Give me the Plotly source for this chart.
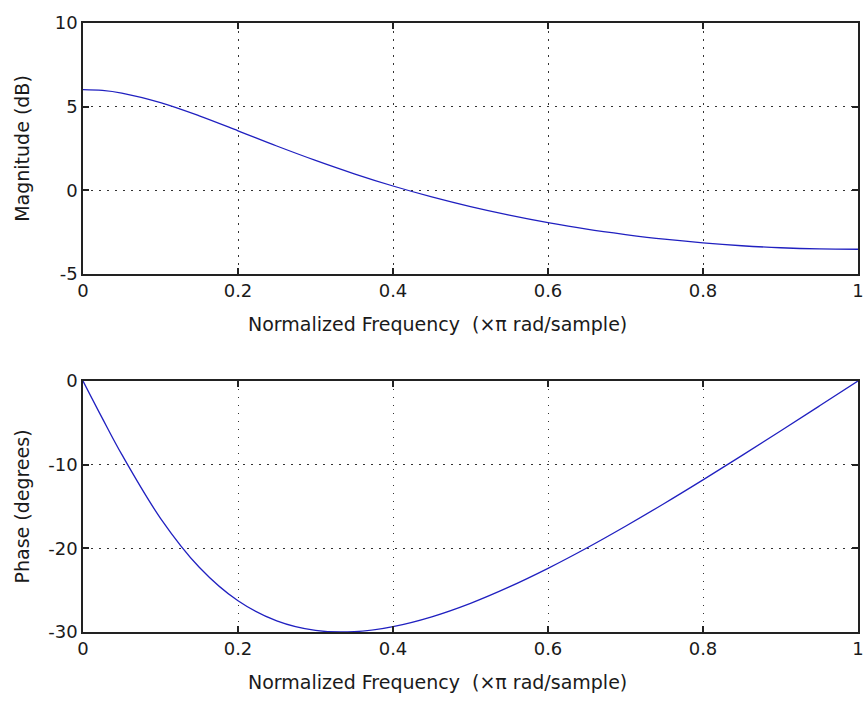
import plotly.graph_objects as go
from plotly.subplots import make_subplots

freq = [0, 0.025, 0.05, 0.1, 0.15, 0.2, 0.25, 0.3, 0.35, 0.4, 0.45, 0.5,
        0.55, 0.6, 0.65, 0.7, 0.75, 0.8, 0.85, 0.9, 0.95, 1.0]
magnitude_db = [6.02, 5.97, 5.81, 5.24, 4.45, 3.56, 2.65, 1.79, 0.99, 0.26, -0.39, -0.97,
                -1.48, -1.93, -2.32, -2.64, -2.92, -3.14, -3.31, -3.43, -3.50, -3.52]
phase_deg = [0, -4.47, -8.78, -16.41, -22.26, -26.27, -28.67, -29.81, -29.96, -29.35, -28.18, -26.57,
             -24.61, -22.39, -19.96, -17.36, -14.64, -11.82, -8.92, -5.98, -3.00, 0]

x_ticks = [0, 0.2, 0.4, 0.6, 0.8, 1]
x_tick_labels = ["0", "0.2", "0.4", "0.6", "0.8", "1"]
mag_ticks = [-5, 0, 5, 10]
mag_tick_labels = ["-5", "0", "5", "10"]
phase_ticks = [-30, -20, -10, 0]
phase_tick_labels = ["-30", "-20", "-10", "0"]
x_title = "Normalized Frequency  (×π rad/sample)"

fig = make_subplots(rows=2, cols=1, vertical_spacing=0.0)
line_style = dict(color="#2020c0", width=1.3, shape="spline")
fig.add_trace(go.Scatter(x=freq, y=magnitude_db, mode="lines", line=line_style,
                         showlegend=False), row=1, col=1)
fig.add_trace(go.Scatter(x=freq, y=phase_deg, mode="lines", line=line_style,
                         showlegend=False), row=2, col=1)

font = dict(family="DejaVu Sans, Liberation Sans, sans-serif", size=18, color="#1a1a1a")
title_font = dict(family="DejaVu Sans, Liberation Sans, sans-serif", size=19, color="#1a1a1a")
axis_common = dict(showline=True, linecolor="#222222", linewidth=1.5, mirror="ticks",
                   ticks="inside", ticklen=6, tickcolor="#222222", tickwidth=1.5,
                   showgrid=True, gridcolor="#333333", griddash="1.5px,6.5px", gridwidth=1.2,
                   zeroline=False, tickfont=font, ticklabeloverflow="allow")

fig.update_xaxes(range=[0, 1], tickvals=x_ticks, ticktext=x_tick_labels, **axis_common)
fig.update_yaxes(**axis_common)
fig.update_yaxes(range=[-5, 10], tickvals=mag_ticks, ticktext=mag_tick_labels,
                 title=dict(text="Magnitude (dB)", font=title_font, standoff=20), row=1, col=1)
fig.update_yaxes(range=[-30, 0], tickvals=phase_ticks, ticktext=phase_tick_labels,
                 title=dict(text="Phase (degrees)", font=title_font, standoff=14), row=2, col=1)

for ypos in (0.5057, -0.0821):
    fig.add_annotation(text=x_title, xref="paper", yref="paper", x=0.457, y=ypos,
                       xanchor="center", yanchor="middle", showarrow=False, font=title_font)

fig.update_layout(
    width=866, height=702,
    margin=dict(l=83, r=2, t=23, b=70),
    paper_bgcolor="white", plot_bgcolor="white",
    xaxis=dict(domain=[0, 1]),
    yaxis=dict(domain=[0.5878, 1.0]),
    yaxis2=dict(domain=[0.0, 0.4122]),
)

fig.write_html("out.html")
